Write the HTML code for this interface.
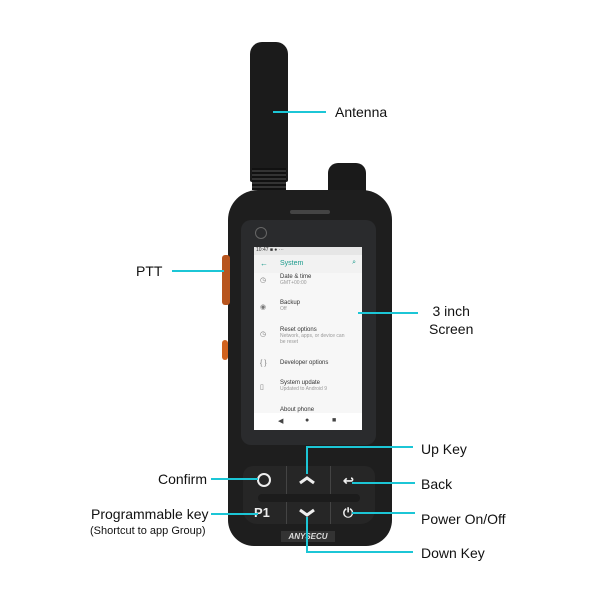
<!DOCTYPE html>
<html><head><style>
body{margin:0;width:600px;height:600px;background:#fff;position:relative;overflow:hidden;font-family:"Liberation Sans",sans-serif}
.t{position:absolute;font-size:14px;color:#111;white-space:nowrap}
.l{position:absolute;background:#1cc6d6}
.a{position:absolute}
.scr{font-size:6px;color:#333}
.ic{position:absolute;left:6px;font-size:7px;color:#777}
</style></head><body>
<!-- antenna -->
<div class="a" style="left:250px;top:42px;width:38px;height:140px;background:#1b1b1b;border-radius:12px 12px 2px 2px"></div>
<div class="a" style="left:252px;top:168px;width:34px;height:22px;background:repeating-linear-gradient(#111 0 2px,#333 2px 4px)"></div>
<!-- knob -->
<div class="a" style="left:328px;top:163px;width:38px;height:34px;background:#1a1a1a;border-radius:10px 10px 4px 4px"></div>
<!-- body -->
<div class="a" style="left:228px;top:190px;width:164px;height:356px;background:#1e1e1e;border-radius:30px 30px 26px 26px"></div>
<div class="a" style="left:222px;top:255px;width:8px;height:50px;background:#b8551e;border-radius:3px"></div>
<div class="a" style="left:222px;top:340px;width:6px;height:20px;background:#d0621e;border-radius:3px"></div>
<div class="a" style="left:290px;top:210px;width:40px;height:4px;background:#444;border-radius:2px"></div>
<!-- glass -->
<div class="a" style="left:241px;top:220px;width:135px;height:225px;background:#2a2b2d;border-radius:10px"></div>
<div class="a" style="left:255px;top:227px;width:10px;height:10px;border:1px solid #666;border-radius:50%"></div>
<!-- screen -->
<div class="a" style="left:254px;top:247px;width:108px;height:183px;background:#f7f7f7">
<div style="height:8px;background:#e6e6e6;font-size:5px;color:#333;padding-left:2px">10:47 ■ ● ⋯</div>
<div style="height:18px;background:#f2f2f2;position:relative"><span style="position:absolute;left:6px;top:4px;color:#1a9a8c;font-size:8px">←</span><span style="position:absolute;left:26px;top:5px;color:#1a9a8c;font-size:7px">System</span><span style="position:absolute;right:6px;top:4px;color:#1a9a8c;font-size:7px">⌕</span></div>
<span class="ic" style="top:29px">◷</span>
<span class="ic" style="top:56px">◉</span>
<span class="ic" style="top:83px">◷</span>
<span class="ic" style="top:113px">{ }</span>
<span class="ic" style="top:136px">▯</span>
<div class="scr" style="position:absolute;left:26px;top:27px">Date &amp; time<br><span style="color:#999;font-size:5px">GMT+00:00</span></div>
<div class="scr" style="position:absolute;left:26px;top:53px">Backup<br><span style="color:#999;font-size:5px">Off</span></div>
<div class="scr" style="position:absolute;left:26px;top:80px">Reset options<br><span style="color:#999;font-size:5px">Network, apps, or device can<br>be reset</span></div>
<div class="scr" style="position:absolute;left:26px;top:113px">Developer options</div>
<div class="scr" style="position:absolute;left:26px;top:133px">System update<br><span style="color:#999;font-size:5px">Updated to Android 9</span></div>
<div class="scr" style="position:absolute;left:26px;top:160px">About phone</div>
<div style="position:absolute;left:0;top:166px;width:108px;height:17px;background:#fff;font-size:7px;color:#444"><span style="position:absolute;left:24px;top:4px">◀</span><span style="position:absolute;left:51px;top:4px">●</span><span style="position:absolute;left:78px;top:4px">■</span></div>
</div>
<!-- keypad -->
<div class="a" style="left:243px;top:466px;width:132px;height:58px;background:#262626;border-radius:10px 10px 14px 14px"></div>
<div class="a" style="left:286px;top:466px;width:1px;height:58px;background:#444"></div>
<div class="a" style="left:330px;top:466px;width:1px;height:58px;background:#444"></div>
<div class="a" style="left:258px;top:494px;width:102px;height:8px;background:#1c1c1c;border-radius:4px"></div>
<div class="a" style="left:257px;top:473px;width:10px;height:10px;border:2px solid #eee;border-radius:50%"></div>
<div class="a" style="left:254px;top:505px;color:#eee;font-weight:bold;font-size:13px">P1</div>
<svg class="a" style="left:296px;top:474px" width="22" height="12"><path d="M4 9 L11 4 L18 9" stroke="#eee" stroke-width="3" fill="none"/></svg>
<svg class="a" style="left:296px;top:507px" width="22" height="12"><path d="M4 3 L11 8 L18 3" stroke="#eee" stroke-width="3" fill="none"/></svg>
<div class="a" style="left:343px;top:473px;color:#eee;font-size:13px;font-weight:bold">↩</div>
<div class="a" style="left:343px;top:505px;color:#eee;font-size:13px;font-weight:bold">⏻</div>
<div class="a" style="left:281px;top:531px;width:54px;height:11px;background:#333;color:#ddd;font-size:8px;font-style:italic;font-weight:bold;text-align:center;line-height:11px">ANYSECU</div>
<!-- lines -->
<div class="l" style="left:273px;top:111px;width:53px;height:2px"></div>
<div class="l" style="left:172px;top:270px;width:52px;height:2px"></div>
<div class="l" style="left:358px;top:312px;width:60px;height:2px"></div>
<div class="l" style="left:306px;top:446px;width:2px;height:28px"></div>
<div class="l" style="left:306px;top:446px;width:107px;height:2px"></div>
<div class="l" style="left:352px;top:482px;width:63px;height:2px"></div>
<div class="l" style="left:352px;top:512px;width:63px;height:2px"></div>
<div class="l" style="left:306px;top:517px;width:2px;height:36px"></div>
<div class="l" style="left:306px;top:551px;width:107px;height:2px"></div>
<div class="l" style="left:211px;top:478px;width:47px;height:2px"></div>
<div class="l" style="left:211px;top:513px;width:47px;height:2px"></div>
<!-- labels -->
<div class="t" style="left:335px;top:104px">Antenna</div>
<div class="t" style="left:136px;top:263px">PTT</div>
<div class="t" style="left:429px;top:302px;text-align:center;line-height:18px">3 inch<br>Screen</div>
<div class="t" style="left:421px;top:441px">Up Key</div>
<div class="t" style="left:421px;top:476px">Back</div>
<div class="t" style="left:421px;top:511px">Power On/Off</div>
<div class="t" style="left:421px;top:545px">Down Key</div>
<div class="t" style="left:158px;top:471px">Confirm</div>
<div class="t" style="left:91px;top:506px">Programmable key</div>
<div class="t" style="left:90px;top:525px;font-size:11px">(Shortcut to app Group)</div>
</body></html>
